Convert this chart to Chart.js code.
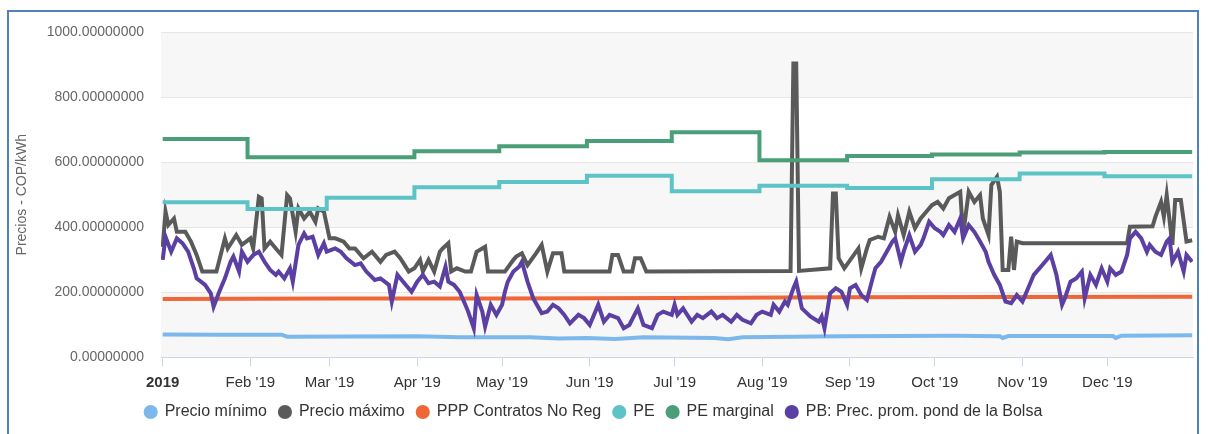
<!DOCTYPE html>
<html>
<head>
<meta charset="utf-8">
<script src="https://cdn.jsdelivr.net/npm/chart.js@4.4.1/dist/chart.umd.min.js"></script>
<style>
    html, body { margin: 0; padding: 0; background: #fff; }
    #frame {
        position: absolute; left: 7px; top: 10px;
        width: 1192px; height: 440px;
        border: 2px solid #4f81bd; box-sizing: border-box;
    }
    #wrap { position: absolute; left: 0; top: 0; width: 1208px; height: 434px; }
</style>
</head>
<body>
<div id="frame"></div>
<div id="wrap"><canvas id="chart"></canvas></div>
<script>
// x = day of year 2019 (0 = 1 Jan)
const monthStarts = [0, 31, 59, 90, 120, 151, 181, 212, 243, 273, 304, 334];
const monthLabels = ["2019", "Feb '19", "Mar '19", "Apr '19", "May '19", "Jun '19",
    "Jul '19", "Aug '19", "Sep '19", "Oct '19", "Nov '19", "Dec '19"];
const yTicks = [0, 200, 400, 600, 800, 1000];

const names = ["Precio mínimo", "Precio máximo", "PPP Contratos No Reg", "PE", "PE marginal",
    "PB: Prec. prom. pond de la Bolsa"];
const colors = ["#7cb8ec", "#5a5a5a", "#ef6737", "#5cc3c6", "#4a9e78", "#5b3fa2"];

const minDays = [0, 20, 42, 44, 90, 105, 130, 140, 150, 160, 170, 195, 200, 205, 240, 280, 296, 297, 299, 336, 337, 339, 364];
const minVals = [71, 70, 70, 64, 65, 62, 62, 58, 60, 57, 62, 60, 56, 62, 65, 67, 65, 60, 66, 66, 60, 67, 68];

const maxDays = [0, 1, 2, 4, 5, 8, 10, 12, 14, 17, 19, 22, 23, 26, 28, 31, 32, 34, 35, 36, 38, 40, 42, 44, 45,
    47, 48, 50, 52, 54, 55, 57, 59, 61, 64, 66, 68, 71, 74, 77, 79, 82, 84, 87, 89,
    91, 92, 94, 96, 98, 99, 101, 102, 104, 107, 109, 111, 114, 115, 121, 124, 125, 127, 129, 132,
    134, 136, 138, 141, 142, 158, 159, 161, 163, 166, 167, 169, 171, 222, 223, 224, 225, 236, 237, 238,
    239, 241, 246, 247, 249, 250, 253, 255, 257, 259, 260, 262, 264, 266, 268, 270, 272, 274, 276, 278,
    280, 282, 283, 285, 287, 289, 290, 292, 293, 295, 296, 297, 299, 300, 301, 302, 304, 341, 342, 350,
    351, 353, 354, 355, 357, 358, 360, 362, 364];
const maxVals = [340, 448, 407, 427, 386, 386, 356, 315, 264, 264, 264, 366, 335, 376, 346, 366, 335, 494, 489, 335, 356, 335, 315, 499, 489,
    386, 458, 427, 448, 417, 458, 448, 366, 366, 356, 335, 335, 305, 325, 294, 315, 325, 305, 264, 274,
    300, 264, 300, 264, 325, 335, 351, 264, 274, 264, 264, 325, 340, 264, 264, 300, 310, 320, 284, 320,
    346, 264, 320, 320, 264, 264, 315, 315, 264, 264, 305, 305, 264, 266, 903, 903, 266, 274, 504, 504,
    305, 274, 335, 274, 335, 361, 371, 366, 432, 386, 437, 376, 448, 397, 427, 448, 468, 478, 458, 489,
    499, 509, 376, 509, 478, 499, 427, 376, 530, 555, 509, 269, 269, 371, 269, 356, 351, 351, 402, 403,
    432, 478, 432, 499, 346, 484, 484, 356, 360];

const pppDays = [0, 60, 120, 180, 240, 300, 364];
const pppVals = [180, 181, 181, 183, 185, 186, 187];

const peDays = [0, 30, 58, 89, 119, 150, 180, 211, 242, 272, 303, 333, 364];
const peVals = [477, 456, 491, 523, 539, 558, 511, 528, 521, 548, 565, 557, 557];

const pemDays = [0, 30, 89, 119, 150, 180, 211, 242, 272, 303, 333, 364];
const pemVals = [671, 615, 634, 649, 665, 692, 606, 619, 624, 630, 631, 631];

const pbDays = [0, 1, 3, 5, 7, 9, 11, 12, 15, 17, 18, 20, 22, 24, 25, 27, 28, 30, 32, 34, 36, 38, 40, 41, 43,
    45, 46, 48, 50, 51, 53, 55, 57, 58, 61, 63, 65, 68, 70, 72, 75, 77, 80, 81, 83, 85, 88,
    90, 92, 94, 96, 98, 100, 101, 103, 105, 107, 108, 110, 111, 113, 114, 116, 118, 120, 121, 122, 124, 126,
    127, 129, 131, 133, 134, 136, 138, 140, 142, 144, 147, 149, 151, 154, 156, 158, 161, 163, 165, 168, 170,
    173, 175, 177, 180, 181, 182, 184, 187, 189, 191, 194, 196, 198, 201, 203, 205, 208, 210, 212, 215, 216,
    218, 220, 221, 223, 224, 226, 229, 232, 233, 234, 236, 238, 240, 242, 243, 245, 247, 249, 251, 252, 254,
    256, 258, 259, 261, 262, 264, 266, 268, 269, 271, 273, 275, 276, 278, 280, 282, 283, 285, 287, 289, 291,
    292, 294, 296, 298, 300, 302, 304, 306, 308, 309, 312, 314, 316, 318, 319, 321, 323, 325, 326, 328, 330,
    332, 334, 335, 337, 339, 341, 342, 344, 346, 348, 349, 351, 353, 355, 356, 357, 359, 361, 362, 364];
const pbVals = [300, 371, 325, 366, 351, 325, 274, 243, 223, 197, 156, 202, 243, 294, 310, 264, 325, 294, 315, 325, 294, 269, 254, 264, 243,
    274, 233, 346, 381, 366, 371, 315, 351, 325, 335, 325, 305, 284, 289, 264, 238, 243, 223, 172, 254, 233, 202,
    233, 254, 228, 233, 218, 279, 233, 223, 202, 162, 141, 90, 192, 141, 95, 162, 131, 162, 202, 233, 264, 279,
    294, 233, 182, 151, 136, 141, 162, 151, 131, 105, 131, 121, 100, 162, 110, 131, 121, 90, 100, 151, 100,
    90, 131, 141, 131, 162, 131, 151, 110, 131, 121, 141, 121, 131, 110, 131, 116, 105, 131, 141, 131, 162,
    141, 172, 162, 213, 233, 151, 126, 110, 126, 90, 197, 213, 202, 162, 213, 223, 192, 177, 243, 274, 294,
    325, 356, 366, 294, 325, 376, 325, 346, 366, 417, 397, 386, 376, 407, 386, 427, 366, 407, 386, 356, 325,
    294, 254, 223, 172, 167, 192, 172, 213, 254, 264, 294, 315, 254, 162, 182, 233, 243, 264, 182, 254, 223,
    274, 233, 274, 254, 264, 315, 366, 386, 366, 325, 346, 325, 315, 356, 366, 294, 325, 264, 315, 294];

function pts(days, vals) {
    return days.map((d, i) => ({ x: d, y: vals[i] }));
}

const seriesData = [
    pts(minDays, minVals),
    pts(maxDays, maxVals),
    pts(pppDays, pppVals),
    pts(peDays, peVals),
    pts(pemDays, pemVals),
    pts(pbDays, pbVals)
];
// PE and PE marginal hold their value until the next change
const steppedSeries = [false, false, false, "before", "before", false];

// alternating plot bands like the original
const bandPlugin = {
    id: "bands",
    beforeDraw(chart) {
        const { ctx, chartArea: a, scales: { y } } = chart;
        ctx.save();
        ctx.fillStyle = "#f7f7f7";
        for (let v = 0; v < 1000; v += 400) {
            const top = y.getPixelForValue(v + 200);
            const bot = y.getPixelForValue(v);
            ctx.fillRect(a.left, top, a.right - a.left, bot - top);
        }
        ctx.restore();
    },
    // legend in the original sits a little left of the canvas centre
    afterLayout(chart) {
        chart.legend.left -= 8;
        chart.legend.right -= 8;
    }
};

const FONT = "'Liberation Sans', Arial, sans-serif";

new Chart(document.getElementById("chart"), {
    type: "line",
    data: {
        datasets: seriesData.map((d, i) => ({
            label: names[i],
            data: d,
            borderColor: colors[i],
            backgroundColor: colors[i],
            borderWidth: 4,
            pointRadius: 0,
            tension: 0,
            stepped: steppedSeries[i],
            order: 5 - i
        }))
    },
    options: {
        responsive: true,
        maintainAspectRatio: false,
        animation: false,
        layout: { padding: { left: 10, right: 15, top: 32, bottom: 4 } },
        plugins: {
            tooltip: { enabled: false },
            legend: {
                position: "bottom",
                labels: {
                    usePointStyle: true,
                    pointStyle: "circle",
                    boxWidth: 12,
                    boxHeight: 10,
                    padding: 12,
                    color: "#333",
                    font: { family: FONT, size: 16, lineHeight: 1 },
                    sort: (a, b) => a.datasetIndex - b.datasetIndex,
                    generateLabels(chart) {
                        return Chart.defaults.plugins.legend.labels.generateLabels(chart)
                            .map(it => Object.assign(it, { lineWidth: 0 }));
                    }
                }
            }
        },
        scales: {
            x: {
                type: "linear",
                min: -0.6,
                max: 364.3,
                afterBuildTicks(scale) {
                    scale.ticks = monthStarts.map(v => ({ value: v }));
                },
                afterFit(scale) {
                    scale.height = 34.5;
                },
                ticks: {
                    autoSkip: false,
                    maxRotation: 0,
                    padding: 9,
                    color: "#333",
                    font: ctx => ({ family: FONT, size: 15, lineHeight: 1, weight: ctx.index === 0 ? "bold" : "normal" }),
                    callback: (v, i) => monthLabels[i]
                },
                grid: {
                    drawOnChartArea: false,
                    drawTicks: true,
                    tickLength: 9,
                    color: "#ccd6eb",
                    lineWidth: 1
                },
                border: { display: true, color: "#ccd6eb" }
            },
            y: {
                min: 0,
                max: 1000,
                afterBuildTicks(scale) {
                    scale.ticks = yTicks.map(v => ({ value: v }));
                },
                afterFit(scale) {
                    scale.width = 151;
                },
                ticks: {
                    padding: 17,
                    color: "#666",
                    font: { family: FONT, size: 14 },
                    callback: v => v.toFixed(8)
                },
                grid: { color: "#e6e6e6", drawTicks: false },
                border: { display: false },
                title: {
                    display: true,
                    text: "Precios - COP/kWh",
                    color: "#666",
                    font: { family: FONT, size: 14 }
                }
            }
        }
    },
    plugins: [bandPlugin]
});
</script>
</body>
</html>
